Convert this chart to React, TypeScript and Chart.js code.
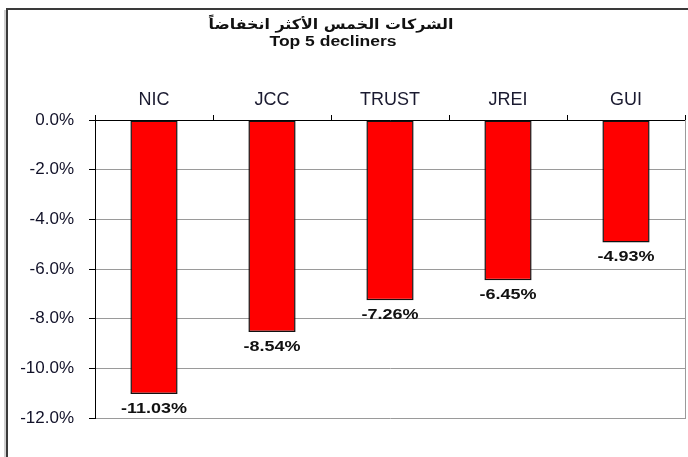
import React, { useEffect, useRef } from "react";
import { Chart, registerables } from "chart.js";

Chart.register(...registerables);

const categories = ["NIC", "JCC", "TRUST", "JREI", "GUI"];
const changes = [-11.03, -8.54, -7.26, -6.45, -4.93];
const valueLabels = ["-11.03%", "-8.54%", "-7.26%", "-6.45%", "-4.93%"];
const yMin = -12;
const yMax = 0;
const yStep = 2;
const titleArabic = "الشركات الخمس الأكثر انخفاضاً";
const titleEnglish = "Top 5 decliners";

function drawFitted(ctx: CanvasRenderingContext2D, text: string, font: string, cx: number, cy: number, targetW: number) {
  ctx.save();
  ctx.font = font;
  const w = ctx.measureText(text).width;
  const s = targetW / w;
  ctx.translate(cx, cy);
  ctx.scale(s, 1);
  ctx.textAlign = "center";
  ctx.textBaseline = "middle";
  ctx.fillStyle = "#111";
  ctx.fillText(text, 0, 0);
  ctx.restore();
}

export default function App() {
  const ref = useRef<HTMLCanvasElement>(null);

  useEffect(() => {
    if (!ref.current) return;
    const deco = {
      id: "deco",
      beforeDraw(chart: any) {
        const ctx = chart.ctx as CanvasRenderingContext2D;
        ctx.save();
        ctx.fillStyle = "#fff";
        ctx.fillRect(0, 0, chart.width, chart.height);
        ctx.fillStyle = "#d0d0d0";
        ctx.fillRect(4, 10, 2, chart.height);
        ctx.fillStyle = "#3a3a3a";
        ctx.fillRect(6, 8, chart.width - 6, 2);
        ctx.fillRect(6, 8, 2, chart.height - 8);
        ctx.restore();
      },
      afterDraw(chart: any) {
        const ctx = chart.ctx as CanvasRenderingContext2D;
        const area = chart.chartArea;
        ctx.save();
        ctx.strokeStyle = "#9a9a9a";
        ctx.lineWidth = 1;
        ctx.beginPath();
        ctx.moveTo(area.right + 0.5, area.top);
        ctx.lineTo(area.right + 0.5, area.bottom + 1);
        ctx.stroke();
        ctx.restore();

        const meta = chart.getDatasetMeta(0);
        meta.data.forEach((bar: any, i: number) => {
          ctx.save();
          ctx.font = "bold 15px 'Liberation Sans', Arial, sans-serif";
          ctx.translate(bar.x, bar.y + 19);
          ctx.scale(1.2, 1);
          ctx.textAlign = "center";
          ctx.textBaseline = "alphabetic";
          ctx.fillStyle = "#111";
          ctx.fillText(valueLabels[i], 0, 0);
          ctx.restore();
        });

        drawFitted(ctx, titleArabic, "bold 14px 'DejaVu Sans', sans-serif", 331, 25, 245);
        drawFitted(ctx, titleEnglish, "bold 14px 'Liberation Sans', Arial, sans-serif", 333, 42, 127);
      },
    };

    const chart = new Chart(ref.current, {
      type: "bar",
      data: {
        labels: categories,
        datasets: [
          {
            data: changes,
            backgroundColor: "#ff0000",
            borderColor: "#111",
            borderWidth: 1.5,
            borderSkipped: false,
            categoryPercentage: 1,
            barPercentage: 0.4,
          },
        ],
      },
      options: {
        responsive: false,
        animation: false,
        layout: { padding: { left: 0, right: 3, top: 0, bottom: 39 } },
        plugins: {
          legend: { display: false },
          title: { display: false },
          tooltip: { enabled: false },
        },
        scales: {
          x: {
            position: "top",
            grid: {
              drawOnChartArea: false,
              tickLength: 5,
              tickColor: "#000",
              offset: true,
            },
            border: { color: "#000", width: 1 },
            ticks: {
              color: "#1a1a30",
              font: { family: "'Liberation Sans', Arial, sans-serif", size: 18 },
              padding: 4,
            },
            afterFit(scale: any) {
              scale.height = 120;
            },
          },
          y: {
            min: yMin,
            max: yMax,
            grid: {
              color: "#9a9a9a",
              tickColor: "#000",
              tickLength: 6,
            },
            border: { color: "#000", width: 1 },
            ticks: {
              stepSize: yStep,
              color: "#111128",
              font: { family: "'Liberation Sans', Arial, sans-serif", size: 17 },
              padding: 15,
              callback: (v: any) => Number(v).toFixed(1) + "%",
            },
            afterFit(scale: any) {
              scale.width = 95;
            },
          },
        },
      },
      plugins: [deco],
    });
    return () => chart.destroy();
  }, []);

  return (
    <div style={{ position: "fixed", left: 0, top: 0, width: 688, height: 457, background: "#fff" }}>
      <canvas ref={ref} width={688} height={457} style={{ display: "block" }} />
    </div>
  );
}
